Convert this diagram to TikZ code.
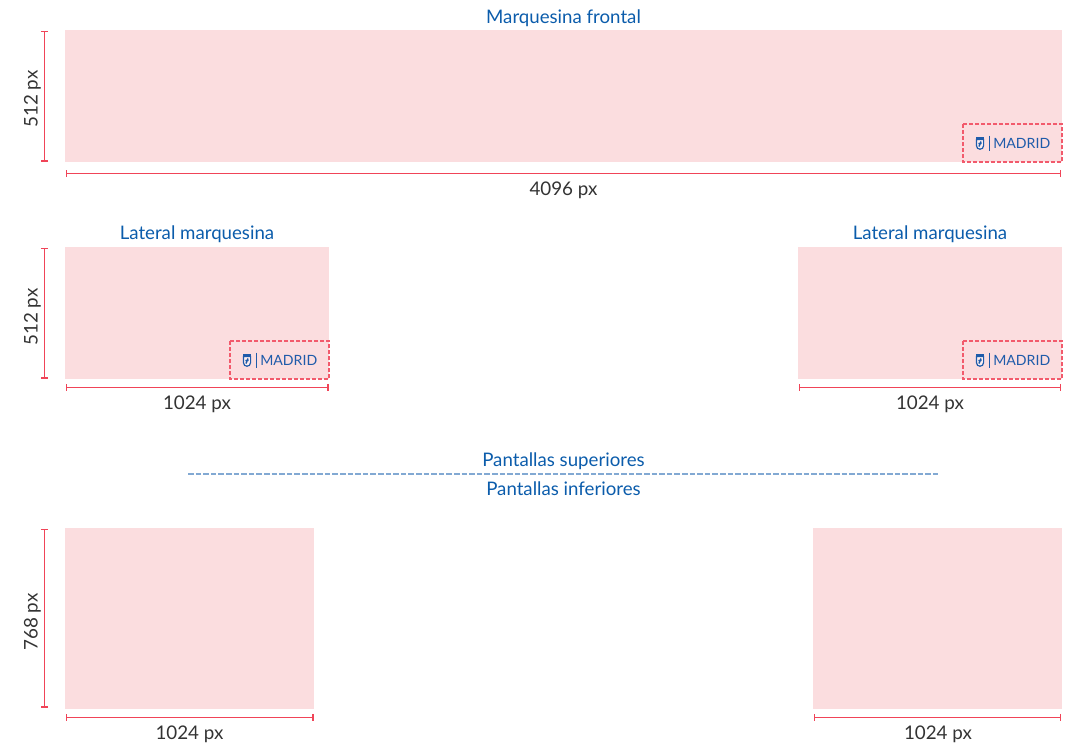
\documentclass[tikz,border=0pt]{standalone}
\usepackage{fontspec}
\usetikzlibrary{arrows.meta}
\setmainfont{Lato}
\definecolor{panelpink}{HTML}{FBDDDF}
\definecolor{dimred}{HTML}{F04458}
\definecolor{boxred}{HTML}{F25A6C}
\definecolor{titleblue}{HTML}{0B5CAB}
\definecolor{dimtext}{HTML}{333333}
\definecolor{sepblue}{HTML}{82A9D3}
\definecolor{logoblue}{HTML}{1F5BAA}
\tikzset{
  panel/.style={fill=panelpink,draw=none},
  dimline/.style={draw=dimred,line width=0.9pt,{Bar[width=5pt,length=0.9pt]}-{Bar[width=5pt,length=0.9pt]}},
  titletext/.style={text=titleblue,font=\fontsize{14pt}{16pt}\selectfont,inner sep=0pt,anchor=center},
  dimtextstyle/.style={text=dimtext,font=\fontsize{14.1pt}{16pt}\selectfont,inner sep=0pt,anchor=center},
  logobox/.style={draw=boxred,line width=0.9pt,dash pattern=on 3pt off 1.5pt,fill=panelpink},
  logotext/.style={text=logoblue,font=\fontsize{10.6pt}{12pt}\selectfont,inner sep=0pt,anchor=west},
  pics/shield/.style={code={
    \fill[logoblue] (-4,-6.2) rectangle (4,-4);
    \draw[logoblue,line width=0.9pt,fill=white!50!panelpink] (-3.6,-3.6) -- (3.6,-3.6) -- (3.6,2.5) .. controls (3.6,5) and (1.8,6.2) .. (0,6.2) .. controls (-1.8,6.2) and (-3.6,5) .. (-3.6,2.5) -- cycle;
    \draw[logoblue,line width=1.1pt] (-1,3.5) -- (1,-1.5) (-1.6,0.5) -- (1.6,0.5);
  }},
  pics/madridlogo/.style={code={
    \pic at (0,0) {shield};
    \draw[logoblue,line width=0.65pt] (9,-7.5) -- (9,7.5);
    \node[logotext] at (13,0.2) {MADRID};
  }}
}
\begin{document}
\begin{tikzpicture}[x=0.75pt,y=-0.75pt]
\useasboundingbox (0,0) rectangle (1068,744);
% panels
\fill[panel] (65,30) rectangle (1062,162);
\fill[panel] (65,247) rectangle (329,379);
\fill[panel] (798,247) rectangle (1062,379);
\fill[panel] (65,528) rectangle (314,709);
\fill[panel] (813,528) rectangle (1062,709);
% logos
\draw[logobox] (963,124) rectangle (1062,162);
\pic at (980,143) {madridlogo};
\draw[logobox] (230,341) rectangle (329,379);
\pic at (247,360) {madridlogo};
\draw[logobox] (963,341) rectangle (1062,379);
\pic at (980,360) {madridlogo};
% titles
\node[titletext] (t1) at (563.5,18) {Marquesina frontal};
\node[titletext] (t2) at (197,234.5) {Lateral marquesina};
\node[titletext] (t3) at (930,234.5) {Lateral marquesina};
\node[titletext] (t4) at (563.5,461.5) {Pantallas superiores};
\node[titletext] (t5) at (563.5,489) {Pantallas inferiores};
% separator
\coordinate (sepL) at (188,474);
\coordinate (sepR) at (938,474);
\draw[sepblue,line width=0.95pt,dash pattern=on 4.2pt off 1.5pt] (sepL) -- (sepR);
% horizontal dimensions
\coordinate (h1a) at (66,173.3); \coordinate (h1b) at (1061,173.3);
\coordinate (h2a) at (66,387.3); \coordinate (h2b) at (328.5,387.3);
\coordinate (h3a) at (799,387.3); \coordinate (h3b) at (1061,387.3);
\coordinate (h4a) at (66,717.3); \coordinate (h4b) at (313.5,717.3);
\coordinate (h5a) at (814,717.3); \coordinate (h5b) at (1061,717.3);
\draw[dimline] (h1a) -- (h1b);
\draw[dimline] (h2a) -- (h2b);
\draw[dimline] (h3a) -- (h3b);
\draw[dimline] (h4a) -- (h4b);
\draw[dimline] (h5a) -- (h5b);
\node[dimtextstyle] (d1) at (563.5,190.5) {4096 px};
\node[dimtextstyle] (d2) at (197,404.5) {1024 px};
\node[dimtextstyle] (d3) at (930,404.5) {1024 px};
\node[dimtextstyle] (d4) at (189.5,734.5) {1024 px};
\node[dimtextstyle] (d5) at (938,734.5) {1024 px};
% vertical dimensions
\coordinate (v1a) at (44.3,30.5); \coordinate (v1b) at (44.3,161.5);
\coordinate (v2a) at (44.3,247.5); \coordinate (v2b) at (44.3,378.5);
\coordinate (v3a) at (44.3,528.5); \coordinate (v3b) at (44.3,707.5);
\draw[dimline] (v1a) -- (v1b);
\draw[dimline] (v2a) -- (v2b);
\draw[dimline] (v3a) -- (v3b);
\node[dimtextstyle,rotate=90] (d6) at (32.5,99) {512 px};
\node[dimtextstyle,rotate=90] (d7) at (32.5,317) {512 px};
\node[dimtextstyle,rotate=90] (d8) at (32.5,622) {768 px};
\end{tikzpicture}
\end{document}
